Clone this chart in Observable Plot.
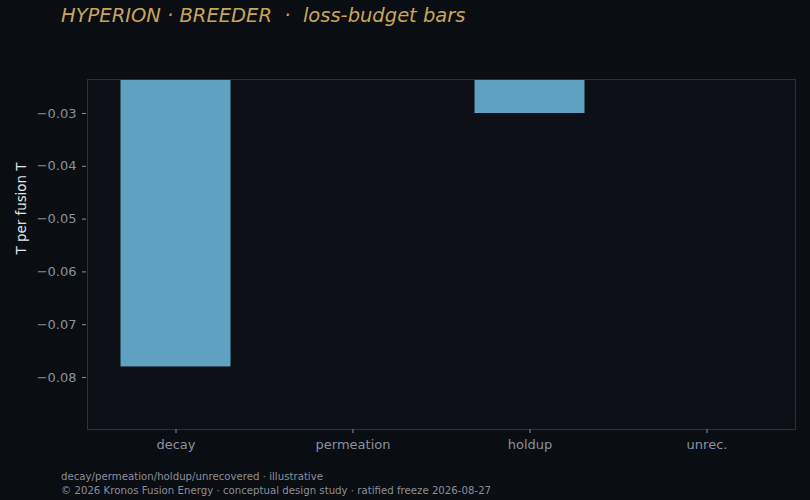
<!DOCTYPE html>
<html>
<head>
<meta charset="utf-8">
<script src="https://cdn.jsdelivr.net/npm/d3@7"></script>
<script src="https://cdn.jsdelivr.net/npm/@observablehq/plot@0.6"></script>
<style>
  html, body { margin: 0; padding: 0; background: #0a0d12; }
  body { width: 810px; height: 500px; overflow: hidden; font-family: "DejaVu Sans", sans-serif; }
  #title { height: 40px; padding-left: 61px; box-sizing: border-box; padding-top: 4px;
           font-size: 19.5px; font-style: italic; color: #c9a55a; white-space: pre; line-height: 24px; }
  #foot { padding-left: 61px; font-size: 10.2px; color: #8a8f99; line-height: 14px; padding-top: 0px; }
  svg { display: block; }
</style>
</head>
<body>
<div id="title">HYPERION · BREEDER  ·  loss-budget bars</div>
<div id="chart"></div>
<div id="foot">decay/permeation/holdup/unrecovered · illustrative<br>© 2026 Kronos Fusion Energy · conceptual design study · ratified freeze 2026-08-27</div>
<script>
const categories = ["decay", "permeation", "holdup", "unrec."];
const values = [-0.078, -0.012, -0.030, -0.006];
const yTicks = [-0.03, -0.04, -0.05, -0.06, -0.07, -0.08];
const yLabel = "T per fusion T";

const data = categories.map((c, i) => ({category: c, value: values[i]}));

const chart = Plot.plot({
  width: 810,
  height: 430,
  marginTop: 39,
  marginBottom: 41,
  marginLeft: 87,
  marginRight: 15,
  style: {background: "transparent", color: "#8a919c", fontFamily: "DejaVu Sans, sans-serif", fontSize: "13px"},
  x: {domain: categories, padding: 0, label: null},
  y: {domain: [-0.08985, -0.02356], label: null},
  marks: [
    Plot.frame({fill: "#0c0f16", stroke: "none"}),
    Plot.barY(data, {x: "category", y: "value", fill: "#5fa1c1", insetLeft: 33.5, insetRight: 33.5, clip: true}),
    Plot.frame({stroke: "#2c3038", strokeWidth: 1}),
    Plot.axisX({tickSize: 4, stroke: "#8a919c", fill: "#8a919c", fontSize: 13, tickPadding: 6, label: null}),
    Plot.axisY({ticks: yTicks, tickFormat: d3.format(".2f"), tickSize: 4, tickPadding: 6, dx: -1, stroke: "#8a919c", fill: "#8a919c", fontSize: 13, label: null}),
    Plot.text([yLabel], {text: d => d, frameAnchor: "left", dx: -66, rotate: -90, fill: "#e2e4e8", fontSize: "13.4px"})
  ]
});
document.getElementById("chart").appendChild(chart);
</script>
</body>
</html>
